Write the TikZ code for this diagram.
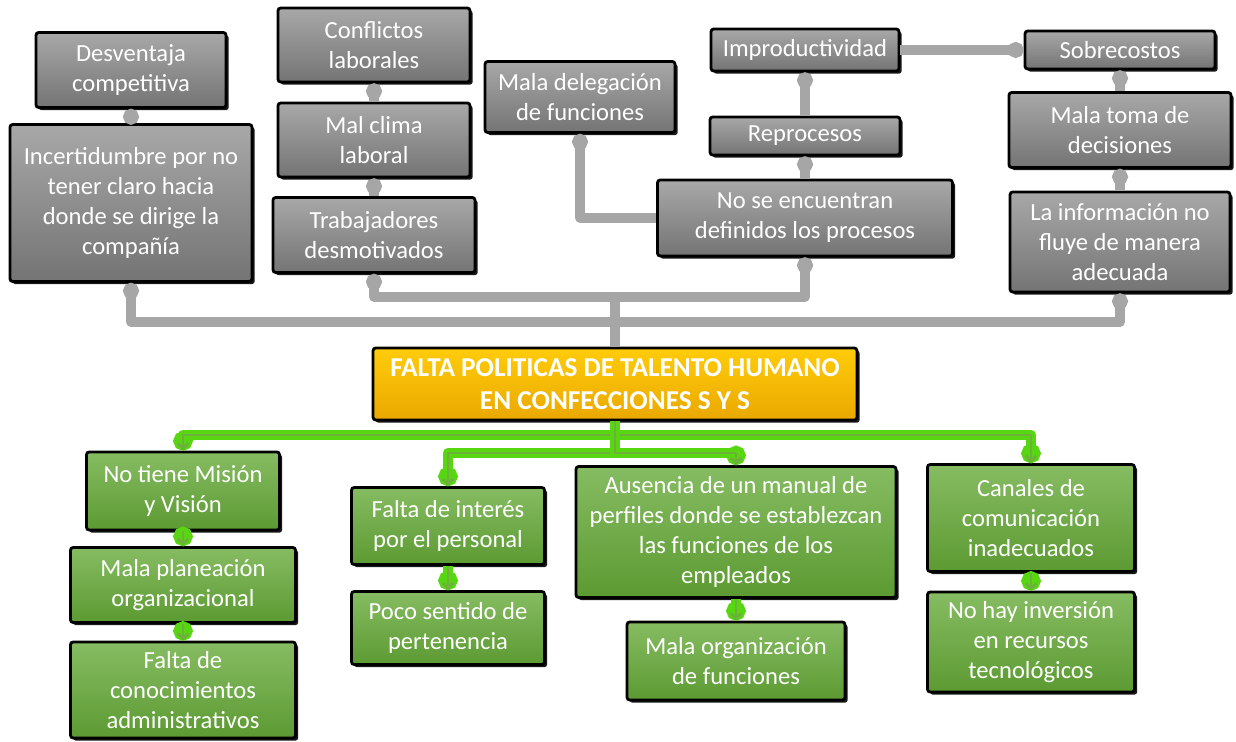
\documentclass[tikz,border=0pt]{standalone}
\usepackage{fontspec}
\setmainfont{Carlito}
\usepackage{tikz}
\usetikzlibrary{arrows.meta,shadows}
\definecolor{BoxGrayTop}{RGB}{168,168,168}
\definecolor{BoxGrayBot}{RGB}{116,116,116}
\definecolor{BoxGreenTop}{RGB}{134,188,98}
\definecolor{BoxGreenBot}{RGB}{92,154,50}
\definecolor{TitleTop}{RGB}{255,204,10}
\definecolor{TitleBot}{RGB}{234,168,0}
\definecolor{LinkGray}{RGB}{166,166,166}
\definecolor{GlowGreen}{RGB}{88,214,18}
\definecolor{DullGreen}{RGB}{108,178,58}
\tikzset{
  basebox/.style={rectangle, rounded corners=1.5pt, draw=black, line width=1.6pt,
    align=center, inner sep=0pt, text=white, font=\fontsize{14}{17}\selectfont,
    drop shadow={shadow xshift=1.5pt, shadow yshift=-1.5pt, fill=black, opacity=0.9}},
  graybox/.style={basebox, top color=BoxGrayTop, bottom color=BoxGrayBot},
  greenbox/.style={basebox, top color=BoxGreenTop, bottom color=BoxGreenBot},
  titlebox/.style={basebox, top color=TitleTop, bottom color=TitleBot,
    font=\fontsize{15.5}{19}\selectfont\bfseries},
  glink/.style={draw=LinkGray, line width=5.5pt, line join=round,
    -{Circle[length=9pt,width=9pt]}},
  vlink/.style={draw=GlowGreen, line width=6pt, line join=round,
    -{Circle[length=11pt,width=11pt]},
    postaction={draw=DullGreen, line width=1.6pt, -{Straight Barb[length=3pt,width=6pt]}}}
}

\begin{document}
\begin{tikzpicture}[x=0.02cm,y=-0.02cm]
\useasboundingbox (0,0) rectangle (1236,742);

\node[graybox, minimum width=3.8cm, minimum height=1.5cm] (desv) at (131,70) {Desventaja\\competitiva};
\node[graybox, minimum width=4.84cm, minimum height=3.14cm] (incert) at (131,203) {Incertidumbre por no\\tener claro hacia\\donde se dirige la\\compañía};
\node[graybox, minimum width=3.84cm, minimum height=1.48cm] (confl) at (374,45) {Conflictos\\laborales};
\node[graybox, minimum width=3.84cm, minimum height=1.48cm] (clima) at (374,140) {Mal clima\\laboral};
\node[graybox, minimum width=4.04cm, minimum height=1.5cm] (trab) at (374,235) {Trabajadores\\desmotivados};
\node[graybox, minimum width=3.8cm, minimum height=1.42cm] (deleg) at (580,97) {Mala delegación\\de funciones};
\node[graybox, minimum width=3.76cm, minimum height=0.84cm] (improd) at (805,50) {Improductividad};
\node[graybox, minimum width=3.8cm, minimum height=0.76cm] (repro) at (805,136) {Reprocesos};
\node[graybox, minimum width=5.9cm, minimum height=1.52cm] (noproc) at (805,218) {No se encuentran\\definidos los procesos};
\node[graybox, minimum width=3.8cm, minimum height=0.76cm] (sobre) at (1120,50) {Sobrecostos};
\node[graybox, minimum width=4.44cm, minimum height=1.5cm] (toma) at (1120,130) {Mala toma de\\decisiones};
\node[graybox, minimum width=4.4cm, minimum height=2.0cm] (info) at (1120,242) {La información no\\fluye de manera\\adecuada};

\node[titlebox, minimum width=9.68cm, minimum height=1.44cm] (central) at (615,384) {FALTA POLITICAS DE TALENTO HUMANO\\EN CONFECCIONES S Y S};

\node[greenbox, minimum width=3.86cm, minimum height=1.56cm] (mision) at (183,491) {No tiene Misión\\y Visión};
\node[greenbox, minimum width=4.5cm, minimum height=1.5cm] (planea) at (183,585) {Mala planeación\\organizacional};
\node[greenbox, minimum width=4.5cm, minimum height=1.92cm] (conoc) at (183,690) {Falta de\\conocimientos\\administrativos};
\node[greenbox, minimum width=3.86cm, minimum height=1.54cm] (interes) at (448,526) {Falta de interés\\por el personal};
\node[greenbox, minimum width=3.86cm, minimum height=1.46cm] (sentido) at (448,628) {Poco sentido de\\pertenencia};
\node[greenbox, minimum width=6.4cm, minimum height=2.62cm] (manual) at (736,532) {Ausencia de un manual de\\perfiles donde se establezcan\\las funciones de los\\empleados};
\node[greenbox, minimum width=4.36cm, minimum height=1.56cm] (organ) at (736,661) {Mala organización\\de funciones};
\node[greenbox, minimum width=4.14cm, minimum height=2.14cm] (canales) at (1031,518) {Canales de\\comunicación\\inadecuados};
\node[greenbox, minimum width=4.14cm, minimum height=2.0cm] (inversion) at (1031,642) {No hay inversión\\en recursos\\tecnológicos};

\coordinate (busA) at (615,322);
\coordinate (busB) at (615,297);
\coordinate (busC) at (615,435);
\coordinate (busD) at (615,453);

% efectos
\draw[glink] (central.north) -- (central.north |- busA) -| (incert.south);
\draw[glink] (central.north) -- (central.north |- busA) -| (info.south);
\draw[glink] (central.north) -- (central.north |- busB) -| (trab.south);
\draw[glink] (central.north) -- (central.north |- busB) -| (noproc.south);
\draw[glink] (incert) -- (desv);
\draw[glink] (trab) -- (clima);
\draw[glink] (clima) -- (confl);
\draw[glink] (noproc.west) -| (deleg.south);
\draw[glink] (noproc) -- (repro);
\draw[glink] (repro) -- (improd);
\draw[glink] (improd) -- (sobre);
\draw[glink] (info) -- (toma);
\draw[glink] (toma) -- (sobre);

% causas
\draw[vlink] (central.south) -- (central.south |- busC) -| (mision.north);
\draw[vlink] (central.south) -- (central.south |- busC) -| (canales.north);
\draw[vlink] (central.south) -- (central.south |- busD) -| (interes.north);
\draw[vlink] (central.south) -- (central.south |- busD) -| (manual.north);
\draw[vlink] (mision) -- (planea);
\draw[vlink] (planea) -- (conoc);
\draw[vlink] (interes) -- (sentido);
\draw[vlink] (manual) -- (organ);
\draw[vlink] (canales) -- (inversion);
\end{tikzpicture}
\end{document}
